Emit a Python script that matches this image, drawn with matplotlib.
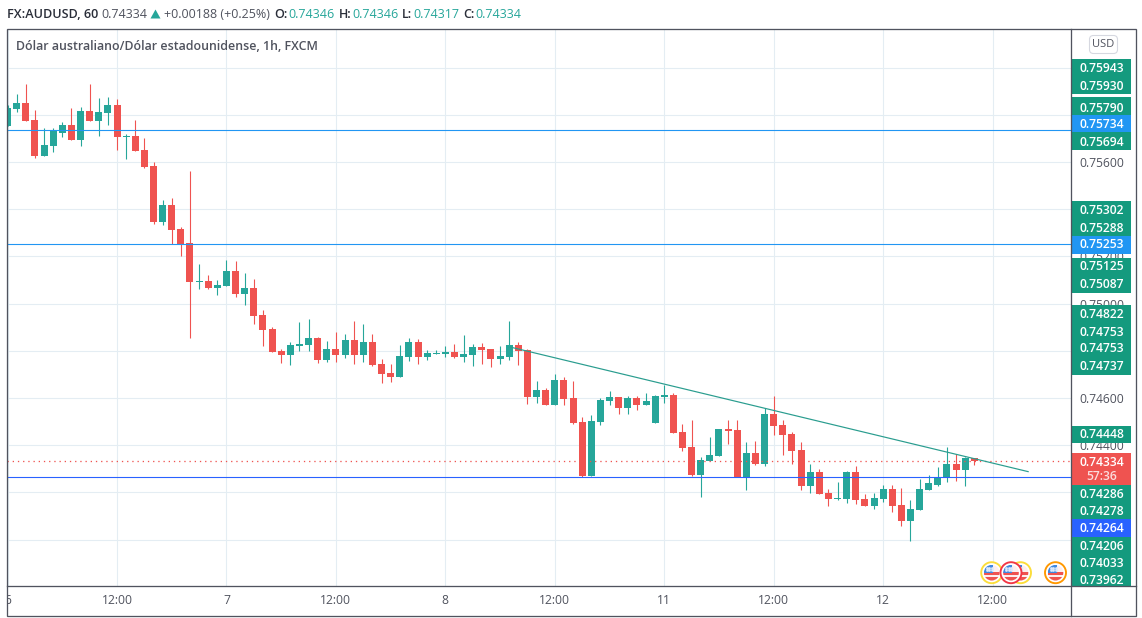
import matplotlib
matplotlib.use("Agg")
import matplotlib.pyplot as plt
from matplotlib.patches import Circle, Rectangle, FancyBboxPatch, Polygon
from matplotlib.transforms import Bbox

plt.rcParams['font.family'] = ['Open Sans', 'DejaVu Sans']

# hourly bars, in units of 0.00001
opens = [75754, 75824, 75850, 75778, 75625, 75667, 75723, 75756, 75693, 75816, 75773, 75807, 75841, 75706, 75710, 75651,
         75583, 75346, 75418, 75316, 75257, 75091, 75096, 75066, 75074, 75138, 75041, 75066, 74952, 74892, 74799, 74782,
         74820, 74825, 74854, 74761, 74808, 74782, 74846, 74782, 74837, 74744, 74706, 74689, 74774, 74837, 74774, 74786,
         74786, 74795, 74774, 74782, 74816, 74808, 74765, 74774, 74825, 74803, 74604, 74634, 74570, 74676, 74600, 74498,
         74270, 74498, 74587, 74604, 74558, 74600, 74570, 74494, 74604, 74613, 74456, 74392, 74274, 74333, 74354, 74469,
         74465, 74265, 74367, 74320, 74532, 74486, 74448, 74380, 74227, 74287, 74198, 74172, 74172, 74287, 74172, 74143,
         74172, 74215, 74147, 74079, 74126, 74210, 74231, 74265, 74320, 74295, 74346]
highs = [75841, 75888, 75930, 75820, 75744, 75744, 75769, 75828, 75833, 75930, 75871, 75875, 75867, 75718, 75778, 75701,
         75600, 75439, 75447, 75324, 75562, 75168, 75121, 75100, 75185, 75180, 75130, 75104, 74973, 74901, 74808, 74837,
         74922, 74935, 74858, 74841, 74880, 74871, 74926, 74913, 74871, 74765, 74744, 74825, 74854, 74850, 74803, 74803,
         74820, 74829, 74867, 74829, 74833, 74808, 74820, 74926, 74837, 74808, 74672, 74642, 74702, 74689, 74672, 74520,
         74528, 74600, 74630, 74604, 74608, 74608, 74621, 74613, 74655, 74621, 74490, 74507, 74350, 74435, 74469, 74507,
         74507, 74414, 74418, 74558, 74608, 74507, 74456, 74414, 74320, 74299, 74215, 74244, 74291, 74312, 74193, 74198,
         74231, 74231, 74219, 74168, 74257, 74274, 74308, 74392, 74363, 74350, 74346]
lows = [75754, 75811, 75773, 75617, 75625, 75642, 75706, 75693, 75667, 75773, 75710, 75756, 75651, 75612, 75646, 75574,
        75337, 75333, 75251, 75202, 74854, 75062, 75062, 75036, 75074, 75028, 74994, 74913, 74820, 74795, 74748, 74740,
        74799, 74799, 74748, 74752, 74752, 74769, 74744, 74752, 74736, 74664, 74668, 74689, 74757, 74744, 74761, 74786,
        74774, 74769, 74752, 74736, 74744, 74731, 74744, 74761, 74740, 74575, 74579, 74570, 74570, 74570, 74490, 74265,
        74270, 74486, 74570, 74532, 74532, 74549, 74570, 74494, 74579, 74452, 74375, 74270, 74181, 74333, 74354, 74405,
        74265, 74210, 74316, 74312, 74443, 74359, 74320, 74210, 74198, 74193, 74143, 74168, 74155, 74151, 74143, 74128,
        74159, 74117, 74058, 73994, 74126, 74210, 74227, 74244, 74248, 74227, 74317]
closes = [75828, 75850, 75773, 75625, 75672, 75730, 75756, 75693, 75816, 75773, 75811, 75841, 75706, 75710, 75646, 75578,
          75346, 75418, 75312, 75251, 75091, 75096, 75066, 75079, 75138, 75041, 75066, 74947, 74888, 74795, 74782, 74825,
          74829, 74854, 74761, 74808, 74782, 74846, 74782, 74837, 74740, 74702, 74689, 74778, 74837, 74774, 74791, 74791,
          74795, 74774, 74786, 74816, 74803, 74765, 74778, 74825, 74799, 74604, 74634, 74570, 74676, 74596, 74494, 74270,
          74503, 74592, 74604, 74558, 74600, 74570, 74587, 74608, 74613, 74452, 74388, 74274, 74337, 74359, 74469, 74460,
          74265, 74367, 74320, 74532, 74481, 74443, 74375, 74227, 74287, 74193, 74172, 74176, 74287, 74168, 74143, 74176,
          74215, 74143, 74079, 74130, 74215, 74240, 74265, 74320, 74295, 74346, 74334]

level_prices = [0.75734, 0.75253]
support_price = 0.74264
last_price = 0.74334
trend_x = [55.1, 111.9]
trend_y = [0.74816, 0.74288]

price_ticks = [0.740, 0.742, 0.744, 0.746, 0.748, 0.750, 0.752, 0.754, 0.756, 0.758, 0.760]
time_ticks = [0, 12, 24, 36, 48, 60, 72, 84, 96, 108]
time_labels = ['6', '12:00', '7', '12:00', '8', '12:00', '11', '12:00', '12', '12:00']

scale_labels = ['0.75943', '0.75930', '0.75790', '0.75734', '0.75694', '0.75302', '0.75288', '0.75253', '0.75125',
                '0.75087', '0.74822', '0.74753', '0.74753', '0.74737', '0.74448', '0.74334', '0.74286', '0.74278',
                '0.74264', '0.74206', '0.74033', '0.73962']
scale_kinds = ['g', 'g', 'g', 'b', 'g', 'g', 'g', 'b', 'g', 'g', 'g', 'g', 'g', 'g', 'g', 'r', 'g', 'g', 'd', 'g', 'g', 'g']

GREEN = '#26a69a'
RED = '#ef5350'
BLUE = '#2196f3'
DEEP_BLUE = '#2962ff'
GRID = '#e4edf3'
FRAME = '#50535e'
TXT = '#50535e'
W, H = 1142, 618
px = 0.72  # one pixel in points at dpi 100

fig = plt.figure(figsize=(W / 100, H / 100), dpi=100, facecolor='white')
ax = fig.add_axes([7 / W, 1 - 586 / H, (1071 - 7) / W, (586 - 29) / H])
ax.set_xlim((7 - 7.6) / 9.12, (1071 - 7.6) / 9.12)
ax.set_ylim(0.746 - (586 - 398) / 23600, 0.746 + (398 - 29) / 23600)

ax.set_xticks(time_ticks)
ax.set_xticklabels(time_labels)
ax.set_yticks(price_ticks)
ax.set_yticklabels(['%.5f' % p for p in price_ticks])
ax.yaxis.tick_right()
ax.tick_params(length=0, labelsize=8.7, labelcolor=TXT)
ax.tick_params(axis='y', pad=6.3)
ax.tick_params(axis='x', pad=5.5)
ax.grid(True, color=GRID, linewidth=1.1 * px, zorder=0)
ax.set_axisbelow(True)
for s in ax.spines.values():
    s.set_visible(False)

# first date label is cut by the chart edge
first = ax.get_xticklabels()[0]
first.set_clip_on(True)
first.set_clip_box(Bbox([[7, 0], [1071, 40]]))

for i in range(len(opens)):
    o, h, l, c = opens[i] / 1e5, highs[i] / 1e5, lows[i] / 1e5, closes[i] / 1e5
    col = GREEN if c >= o else RED
    ax.vlines(i, l, h, color=col, linewidth=1.1 * px, zorder=2)
    ax.bar(i, abs(c - o), bottom=min(o, c), width=7 / 9.12, color=col, linewidth=0, zorder=3)

for p in level_prices:
    ax.axhline(p, color=BLUE, linewidth=1.1 * px, zorder=4)
ax.axhline(support_price, color=DEEP_BLUE, linewidth=1.1 * px, zorder=4)
ax.axhline(last_price, color=RED, linewidth=1.3 * px, linestyle=(0, (1, 3)), zorder=4)
ax.plot(trend_x, trend_y, color='#2a9d8f', linewidth=1.2 * px, zorder=5)

# pixel layer for the frame, the price labels and the text around the chart
ov = fig.add_axes([0, 0, 1, 1], zorder=5)
ov.set_xlim(0, W)
ov.set_ylim(H, 0)
ov.axis('off')
ov.patch.set_alpha(0)

kind_colors = {'g': '#149a7e', 'b': BLUE, 'd': DEEP_BLUE, 'r': RED}
row_tops = [59, 76.5, 97, 115, 132, 201, 218.6, 236, 258, 275, 305, 322.5, 340, 357.5, 426, 453, 485, 502, 519, 537, 554, 571]
row_bottoms = [76.5, 94, 115, 132, 150, 218.6, 236, 253.7, 275, 292.7, 322.5, 340, 357.5, 374.7, 443, 485, 502, 519, 537, 554, 571, 586]
row_text_y = [69, 86, 108, 124.5, 142, 210, 228, 245, 267, 284, 315, 332, 349, 367, 435, 462, 494, 511.5, 529, 546, 563.5, 580.5]
for lab, kind, t, b, ty in zip(scale_labels, scale_kinds, row_tops, row_bottoms, row_text_y):
    ov.add_patch(Rectangle((1071, t), 59.5, b - t, facecolor=kind_colors[kind], edgecolor='none'))
    ov.text(1102, ty, lab, color='white', fontsize=8.7, weight='semibold', ha='center', va='center')
ov.text(1102, 477, '57:36', color='#fbdcdc', fontsize=8.7, weight='semibold', ha='center', va='center')

ov.add_patch(Rectangle((6.5, 28.5), 1136 - 6.5, 616 - 28.5, fill=False, edgecolor=FRAME, linewidth=1.3 * px))
ov.plot([6.5, 1136], [586, 586], color=FRAME, linewidth=1.3 * px)
ov.plot([1071, 1071], [28.5, 616], color=FRAME, linewidth=1.3 * px)

ov.add_patch(FancyBboxPatch((1091, 37), 25, 15, boxstyle='round,pad=1.5,rounding_size=4',
                            facecolor='white', edgecolor='#d6d8e0', linewidth=1.1 * px))
ov.text(1103.5, 44.5, 'USD', color=TXT, fontsize=8, ha='center', va='center')

# header row
y0 = 14
ov.text(7, y0, 'FX:AUDUSD, 60', color='#2a2e39', fontsize=9.1, weight='semibold', va='center')
ov.text(101.5, y0, '0.74334', color=TXT, fontsize=9, va='center')
ov.add_patch(Polygon([[150.5, 18.5], [160.5, 18.5], [155.5, 9.5]], facecolor=GREEN, edgecolor='none'))
ov.text(164.5, y0, '+0.00188 (+0.25%)', color=TXT, fontsize=9, va='center')
for name, nx, val, vx in [('O:', 274.5, '0.74346', 288), ('H:', 338.5, '0.74346', 352),
                          ('L:', 402, '0.74317', 413), ('C:', 463, '0.74334', 475)]:
    ov.text(nx, y0, name, color='#2a2e39', fontsize=9, weight='semibold', va='center')
    ov.text(vx, y0, val, color=GREEN, fontsize=9, va='center')
ov.text(16, 46, 'Dólar australiano/Dólar estadounidense, 1h, FXCM', color='#50535e', fontsize=8.9,
        weight='semibold', va='center')


def flag(cx, cy, rim, z):
    ov.add_patch(Circle((cx, cy), 10.5, facecolor='white', edgecolor=rim, linewidth=1.9 * px, zorder=z))
    inner = Circle((cx, cy), 7.8, transform=ov.transData)
    parts = [Rectangle((cx - 8, cy - 8), 16, 16, facecolor='#fdeeee', edgecolor='none', zorder=z),
             Rectangle((cx - 8, cy - 1), 16, 3, facecolor='#ef5350', edgecolor='none', zorder=z),
             Rectangle((cx - 8, cy + 4), 16, 4, facecolor='#ef5350', edgecolor='none', zorder=z),
             Rectangle((cx - 8, cy - 8), 9, 8.5, facecolor='#3f88e0', edgecolor='none', zorder=z)]
    for p in parts:
        ov.add_patch(p)
        p.set_clip_path(inner)
    for dx in (-5, -2.5, 0):
        for dy in (-5, -2.5):
            ov.plot(cx + dx, cy + dy, marker='s', markersize=0.9, color='#dce9fb', zorder=z + 0.1)


flag(1020.5, 572.7, '#fbdd3a', 6)
flag(991.7, 572.7, '#fbdd3a', 7)
flag(1011, 572.7, '#f23645', 8)
flag(1055.5, 572.7, '#ff9800', 6)

fig.savefig('out.png', dpi=100)
